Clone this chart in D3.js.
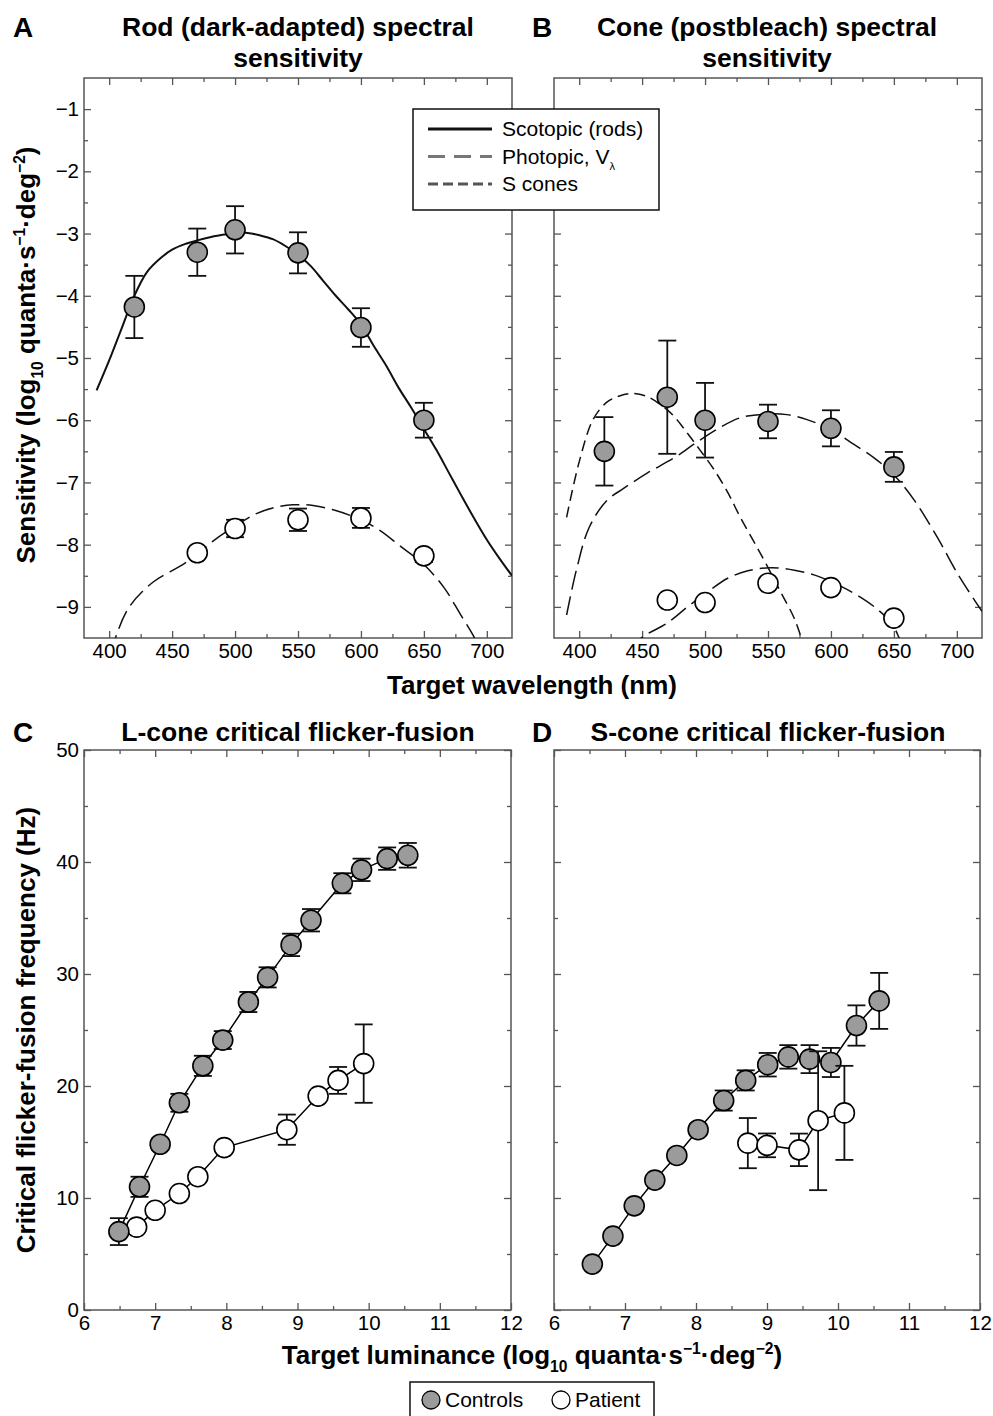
<!DOCTYPE html>
<html>
<head>
<meta charset="utf-8">
<script src="https://cdn.jsdelivr.net/npm/d3@7"></script>
<style>
  body { margin: 0; background: #fff; }
  svg { font-family: "Liberation Sans", Arial, sans-serif; }
</style>
</head>
<body>
<svg id="chart" width="993" height="1416"></svg>
<script>
// --- panel A/B: spectral sensitivity (log10 quanta s-1 deg-2) ---
const wavelengths = [420, 470, 500, 550, 600, 650];
const rodControls = [-4.18, -3.30, -2.94, -3.31, -4.51, -6.00];
const rodControlsErr = [0.50, 0.38, 0.38, 0.33, 0.31, 0.28];
const rodPatientNm = [470, 500, 550, 600, 650];
const rodPatient = [-8.13, -7.74, -7.60, -7.57, -8.18];
const rodPatientErr = [0.05, 0.14, 0.18, 0.16, 0.10];

const coneControls = [-6.50, -5.63, -6.00, -6.02, -6.13, -6.75];
const coneControlsErr = [0.55, 0.91, 0.60, 0.27, 0.29, 0.24];
const conePatientNm = [470, 500, 550, 600, 650];
const conePatient = [-8.89, -8.93, -8.62, -8.69, -9.18];

// fitted template curves as [nm, value]
const scotopicCurve = [[390, -5.52], [400, -5.04], [410, -4.52], [420, -4.00], [430, -3.62],
  [440, -3.41], [450, -3.26], [460, -3.17], [470, -3.11], [480, -3.06], [490, -3.02],
  [500, -3.00], [510, -2.99], [520, -3.03], [530, -3.09], [540, -3.20], [550, -3.34],
  [560, -3.52], [570, -3.76], [580, -4.00], [590, -4.22], [600, -4.46], [610, -4.80],
  [620, -5.12], [630, -5.48], [640, -5.80], [650, -6.14], [660, -6.48], [670, -6.85],
  [680, -7.22], [690, -7.58], [700, -7.92], [710, -8.22], [720, -8.50]];
const rodPatientCurve = [[402, -9.75], [405, -9.5], [416, -9.0], [435, -8.6], [456, -8.35],
  [469, -8.17], [482, -7.95], [500, -7.70], [517, -7.50], [530, -7.41], [546, -7.36],
  [562, -7.37], [578, -7.44], [600, -7.60], [615, -7.77], [631, -8.02], [650, -8.32],
  [666, -8.69], [679, -9.12], [690, -9.49], [694, -9.7]];
const sConeCurve = [[390, -7.56], [400, -6.67], [411, -5.99], [422, -5.71], [432, -5.61],
  [443, -5.57], [454, -5.62], [464, -5.74], [475, -5.93], [486, -6.21], [496, -6.48],
  [507, -6.79], [518, -7.16], [528, -7.56], [539, -7.96], [549, -8.33], [560, -8.76],
  [571, -9.19], [578, -9.6]];
const photopicCurve = [[390, -9.13], [398, -8.39], [408, -7.72], [422, -7.29], [435, -7.10],
  [454, -6.85], [475, -6.61], [493, -6.36], [509, -6.15], [528, -5.96], [549, -5.90],
  [565, -5.91], [581, -5.99], [600, -6.15], [616, -6.36], [634, -6.60], [650, -6.88],
  [666, -7.28], [685, -7.90], [701, -8.48], [714, -8.89], [720, -9.07]];
const conePatientCurve = [[440, -9.7], [450, -9.49], [470, -9.26], [486, -9.0], [502, -8.76],
  [518, -8.54], [534, -8.42], [552, -8.37], [571, -8.41], [590, -8.51], [608, -8.67],
  [624, -8.85], [637, -9.04], [648, -9.26], [654, -9.49], [658, -9.7]];

// --- panel C/D: critical flicker-fusion (Hz) vs log10 luminance ---
const lumLControls = [6.49, 6.78, 7.07, 7.34, 7.67, 7.95, 8.31, 8.58, 8.91, 9.19, 9.63, 9.90, 10.26, 10.55];
const cffLControls = [7.0, 11.0, 14.8, 18.5, 21.8, 24.1, 27.5, 29.7, 32.6, 34.8, 38.1, 39.3, 40.3, 40.6];
const cffLControlsErr = [1.2, 0.9, 0.5, 0.8, 0.9, 0.8, 0.9, 0.9, 1.0, 1.0, 0.9, 1.0, 1.0, 1.1];
const lumLPatient = [6.74, 7.00, 7.34, 7.60, 7.97, 8.85, 9.29, 9.57, 9.93];
const cffLPatient = [7.4, 8.9, 10.4, 11.9, 14.5, 16.1, 19.1, 20.5, 22.0];
const cffLPatientErr = [0.3, 0.3, 0.3, 0.3, 0.3, 1.35, 0.4, 1.2, 3.5];

const lumSControls = [6.54, 6.83, 7.13, 7.42, 7.73, 8.03, 8.39, 8.70, 9.01, 9.30, 9.60, 9.90, 10.26, 10.58];
const cffSControls = [4.1, 6.6, 9.3, 11.6, 13.8, 16.1, 18.7, 20.5, 21.9, 22.6, 22.4, 22.1, 25.4, 27.6];
const cffSControlsErr = [0.3, 0.4, 0.4, 0.4, 0.45, 0.5, 0.9, 0.9, 1.05, 1.05, 1.25, 1.3, 1.8, 2.5];
const lumSPatient = [8.73, 9.00, 9.45, 9.72, 10.09];
const cffSPatient = [14.9, 14.7, 14.3, 16.9, 17.6];
const cffSPatientErr = [2.24, 1.06, 1.45, 6.2, 4.2];

const nmMajor = [400, 450, 500, 550, 600, 650, 700];
const nmMinor = [425, 475, 525, 575, 625, 675];
const sensMajor = [-9, -8, -7, -6, -5, -4, -3, -2, -1];
const sensMinor = [-8.5, -7.5, -6.5, -5.5, -4.5, -3.5, -2.5, -1.5];
const lumMajor = [6, 7, 8, 9, 10, 11, 12];
const lumMinor = [6.5, 7.5, 8.5, 9.5, 10.5, 11.5];
const hzMajor = [0, 10, 20, 30, 40, 50];
const hzMinor = [5, 15, 25, 35, 45];

const GRAY = '#9b9b9b';
const FRAME = '#555';
const svg = d3.select('#chart');

// scales
const yA = d3.scaleLinear([-9.5, -0.5], [638, 78]);
const xA = d3.scaleLinear([380, 720], [84, 512]);
const xB = d3.scaleLinear([380, 720], [554, 982]);
const yC = d3.scaleLinear([0, 50], [1310, 750]);
const xC = d3.scaleLinear([6, 12], [84, 511]);
const xD = d3.scaleLinear([6, 12], [554, 980]);

function styleAxis(g) {
  g.select('.domain').remove();
  g.selectAll('.tick line').attr('stroke', FRAME).attr('stroke-width', 1.3);
  g.attr('font-family', null).attr('font-size', 20.5);
  g.selectAll('.tick text').attr('fill', '#000');
}

function frame(x, y, xMajor, xMinor, yMajor, yMinor, showY, clipId) {
  const [x0, x1] = x.range();
  const [yb, yt] = y.range();
  const g = svg.append('g');
  g.append('clipPath').attr('id', clipId)
    .append('rect').attr('x', x0).attr('y', yt).attr('width', x1 - x0).attr('height', yb - yt);

  const sides = [
    [d3.axisBottom(x), `translate(0,${yb})`, xMajor, xMinor, true],
    [d3.axisTop(x), `translate(0,${yt})`, xMajor, xMinor, false],
    [d3.axisLeft(y), `translate(${x0},0)`, yMajor, yMinor, showY],
    [d3.axisRight(y), `translate(${x1},0)`, yMajor, yMinor, false]
  ];
  sides.forEach(([ax, tr, major, minor, labels]) => {
    g.append('g').attr('transform', tr)
      .call(ax.tickValues(major).tickSizeInner(-7).tickSizeOuter(0).tickPadding(labels ? 5 : 0)
        .tickFormat(labels ? d3.format('') : ''))
      .call(styleAxis);
    g.append('g').attr('transform', tr)
      .call(ax.tickValues(minor).tickSizeInner(-4).tickSizeOuter(0).tickFormat(''))
      .call(styleAxis);
  });
  g.append('rect').attr('x', x0).attr('y', yt).attr('width', x1 - x0).attr('height', yb - yt)
    .attr('fill', 'none').attr('stroke', FRAME).attr('stroke-width', 1.5);
  return g;
}

function curve(g, x, y, pts, dash, width, clipId) {
  g.append('path')
    .datum(pts)
    .attr('clip-path', `url(#${clipId})`)
    .attr('fill', 'none')
    .attr('stroke', '#111')
    .attr('stroke-width', width)
    .attr('stroke-dasharray', dash)
    .attr('d', d3.line().x(d => x(d[0])).y(d => y(d[1])).curve(d3.curveCatmullRom));
}

function points(g, x, y, xs, ys, errs, fill, connect) {
  const data = xs.map((v, i) => ({ x: v, y: ys[i], e: errs ? errs[i] : 0 }));
  if (connect) {
    g.append('path').datum(data)
      .attr('fill', 'none').attr('stroke', '#000').attr('stroke-width', 1.5)
      .attr('d', d3.line().x(d => x(d.x)).y(d => y(d.y)));
  }
  const eb = g.append('g').attr('stroke', '#111').attr('stroke-width', 1.8);
  data.filter(d => d.e > 0).forEach(d => {
    const cx = x(d.x), hi = y(d.y + d.e), lo = y(d.y - d.e);
    eb.append('line').attr('x1', cx).attr('x2', cx).attr('y1', hi).attr('y2', lo);
    eb.append('line').attr('x1', cx - 9).attr('x2', cx + 9).attr('y1', hi).attr('y2', hi);
    eb.append('line').attr('x1', cx - 9).attr('x2', cx + 9).attr('y1', lo).attr('y2', lo);
  });
  g.selectAll(null).data(data).join('circle')
    .attr('cx', d => x(d.x)).attr('cy', d => y(d.y)).attr('r', 10)
    .attr('fill', fill).attr('stroke', '#000').attr('stroke-width', 1.6);
}

// text with sub/superscripts: parts = [[string, 'n'|'sub'|'sup'], ...]
function rich(sel, parts, size) {
  let shift = 0;
  parts.forEach(([t, kind]) => {
    const target = kind === 'sub' ? 0.3 * size : kind === 'sup' ? -0.38 * size : 0;
    sel.append('tspan')
      .attr('dy', target - shift)
      .attr('font-size', kind === 'n' ? size : size * 0.6)
      .text(t);
    shift = target;
  });
}

function label(x, y, txt, size, weight, anchor) {
  return svg.append('text').attr('x', x).attr('y', y)
    .attr('font-size', size).attr('font-weight', weight || 'bold')
    .attr('text-anchor', anchor || 'middle').text(txt);
}

// ---- Panel A ----
const gA = frame(xA, yA, nmMajor, nmMinor, sensMajor, sensMinor, true, 'clipA');
curve(gA, xA, yA, scotopicCurve, null, 2, 'clipA');
curve(gA, xA, yA, rodPatientCurve, '19,7', 1.5, 'clipA');
points(gA, xA, yA, wavelengths, rodControls, rodControlsErr, GRAY, false);
points(gA, xA, yA, rodPatientNm, rodPatient, rodPatientErr, '#fff', false);

// ---- Panel B ----
const gB = frame(xB, yA, nmMajor, nmMinor, sensMajor, sensMinor, false, 'clipB');
curve(gB, xB, yA, sConeCurve, '11,6', 1.5, 'clipB');
curve(gB, xB, yA, photopicCurve, '19,7', 1.5, 'clipB');
curve(gB, xB, yA, conePatientCurve, '19,7', 1.5, 'clipB');
points(gB, xB, yA, wavelengths, coneControls, coneControlsErr, GRAY, false);
points(gB, xB, yA, conePatientNm, conePatient, null, '#fff', false);

// ---- Panel C ----
const gC = frame(xC, yC, lumMajor, lumMinor, hzMajor, hzMinor, true, 'clipC');
points(gC, xC, yC, lumLPatient, cffLPatient, cffLPatientErr, '#fff', true);
points(gC, xC, yC, lumLControls, cffLControls, cffLControlsErr, GRAY, true);

// ---- Panel D ----
const gD = frame(xD, yC, lumMajor, lumMinor, hzMajor, hzMinor, false, 'clipD');
points(gD, xD, yC, lumSControls, cffSControls, cffSControlsErr, GRAY, true);
points(gD, xD, yC, lumSPatient, cffSPatient, cffSPatientErr, '#fff', true);

// ---- titles and letters ----
label(13, 37, 'A', 28, 'bold', 'start');
label(532, 37, 'B', 28, 'bold', 'start');
label(13, 742, 'C', 28, 'bold', 'start');
label(532, 742, 'D', 28, 'bold', 'start');
label(298, 36, 'Rod (dark-adapted) spectral', 26.5);
label(298, 67, 'sensitivity', 26.5);
label(767, 36, 'Cone (postbleach) spectral', 26.5);
label(767, 67, 'sensitivity', 26.5);
label(298, 741, 'L-cone critical flicker-fusion', 26.5);
label(768, 741, 'S-cone critical flicker-fusion', 26.5);

// axis titles
label(532, 694, 'Target wavelength (nm)', 26);
const xl = label(532, 1364, '', 26);
rich(xl, [['Target luminance (log', 'n'], ['10', 'sub'], [' quanta·s', 'n'], ['\u22121', 'sup'],
  ['·deg', 'n'], ['\u22122', 'sup'], [')', 'n']], 26);
const ylA = svg.append('text').attr('transform', 'translate(35,355) rotate(-90)')
  .attr('text-anchor', 'middle').attr('font-weight', 'bold').attr('font-size', 26);
rich(ylA, [['Sensitivity (log', 'n'], ['10', 'sub'], [' quanta·s', 'n'], ['\u22121', 'sup'],
  ['·deg', 'n'], ['\u22122', 'sup'], [')', 'n']], 26);
svg.append('text').attr('transform', 'translate(35,1030) rotate(-90)')
  .attr('text-anchor', 'middle').attr('font-weight', 'bold').attr('font-size', 26)
  .text('Critical flicker-fusion frequency (Hz)');

// ---- legend for template curves ----
const legendItems = [
  { name: 'Scotopic (rods)', dash: null, color: '#111' },
  { name: 'Photopic, V', sub: 'λ', dash: '17,9', color: '#777' },
  { name: 'S cones', dash: '10,5', color: '#555' }
];
const lg = svg.append('g');
lg.append('rect').attr('x', 413).attr('y', 109).attr('width', 246).attr('height', 101)
  .attr('fill', '#fff').attr('stroke', '#111').attr('stroke-width', 1.5);
legendItems.forEach((d, i) => {
  const cy = 129 + i * 27.5;
  lg.append('line').attr('x1', 428).attr('x2', 492).attr('y1', cy).attr('y2', cy)
    .attr('stroke', d.color).attr('stroke-width', 3).attr('stroke-dasharray', d.dash);
  const t = lg.append('text').attr('x', 502).attr('y', cy + 7).attr('font-size', 21).text(d.name);
  if (d.sub) t.append('tspan').attr('dy', 6).attr('font-size', 11).text(d.sub);
});

// ---- legend for subjects ----
const subjects = [
  { name: 'Controls', fill: GRAY, cx: 431 },
  { name: 'Patient', fill: '#fff', cx: 561 }
];
const lg2 = svg.append('g');
lg2.append('rect').attr('x', 410).attr('y', 1382).attr('width', 244).attr('height', 50)
  .attr('fill', '#fff').attr('stroke', '#111').attr('stroke-width', 1.5);
subjects.forEach(d => {
  lg2.append('circle').attr('cx', d.cx).attr('cy', 1400).attr('r', 9)
    .attr('fill', d.fill).attr('stroke', '#000').attr('stroke-width', 1.3);
  lg2.append('text').attr('x', d.cx + 14).attr('y', 1407).attr('font-size', 21).text(d.name);
});
</script>
</body>
</html>
